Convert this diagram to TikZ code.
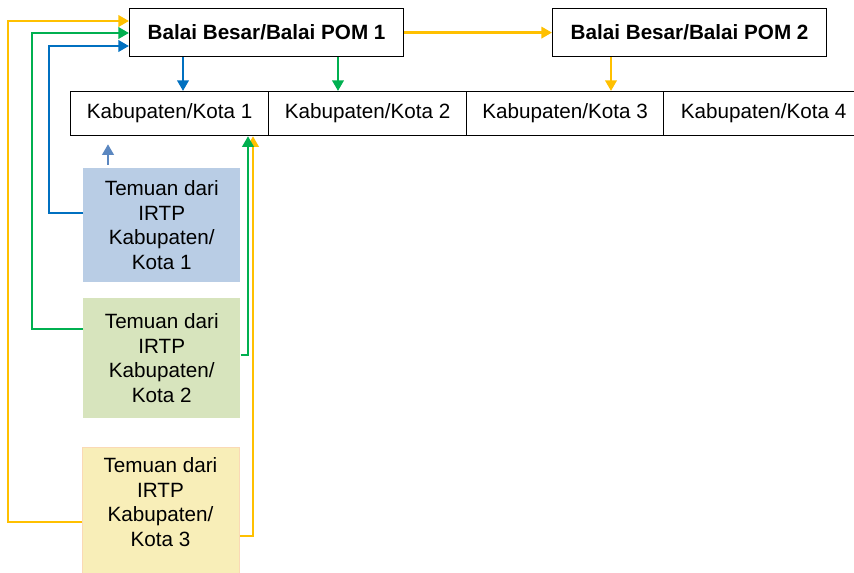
\documentclass[tikz,border=0pt]{standalone}
\usepackage{fontspec}
\setmainfont{Liberation Sans}
\usetikzlibrary{arrows.meta}
\definecolor{cblue}{HTML}{0070C0}
\definecolor{cgreen}{HTML}{00B050}
\definecolor{cyel}{HTML}{FFC000}
\definecolor{csteel}{HTML}{5B87C0}
\definecolor{fblue}{HTML}{B9CDE5}
\definecolor{fgreen}{HTML}{D7E4BD}
\definecolor{fyel}{HTML}{F8EEB8}
\definecolor{byel}{HTML}{FAD9B5}
\begin{document}
\begin{tikzpicture}[x=0.75pt,y=-0.75pt,
  sz/.style 2 args={minimum width={#1*0.75pt}, minimum height={#2*0.75pt}},
  base/.style={inner sep=0pt, anchor=north west, align=center, font=\fontsize{15.5}{18.4}\selectfont},
  wbox/.style={base, draw=black, line width=0.9pt, fill=white},
  conn/.style={line width=2.1pt, draw=#1, -{Triangle[length=8pt,width=8.5pt]}},
]
\useasboundingbox (0,0) rectangle (854,573);
% top boxes
\node[wbox, sz={274}{48}, font=\fontsize{15.5}{18.4}\selectfont\bfseries] (P1) at (129,8) {Balai Besar/Balai POM 1};
\node[wbox, sz={274}{48}, font=\fontsize{15.5}{18.4}\selectfont\bfseries] (P2) at (552,8) {Balai Besar/Balai POM 2};
% kabupaten row
\node[wbox, sz={198}{44}] (K1) at (70,91) {Kabupaten/Kota 1};
\node[wbox, sz={198}{44}] (K2) at (268,91) {Kabupaten/Kota 2};
\node[wbox, sz={197}{44}] (K3) at (466,91) {Kabupaten/Kota 3};
\node[wbox, sz={200}{44}] (K4) at (663,91) {Kabupaten/Kota 4};
% finding boxes
\node[base, fill=fblue, sz={157}{114}] (B1) at (83,168) {Temuan dari\\IRTP\\Kabupaten/\\Kota 1};
\node[base, fill=fgreen, sz={157}{120}] (G2) at (83,298) {Temuan dari\\IRTP\\Kabupaten/\\Kota 2};
\node[base, fill=fyel, draw=byel, line width=0.9pt, sz={157}{140}] (Y3) at (82,447) {};
\node[base, anchor=center] (T3) at (160.5,502) {Temuan dari\\IRTP\\Kabupaten/\\Kota 3};
% arrows between top boxes and row
\draw[conn=cyel] (P1.east) -- (P2.west);
\draw[conn=cblue] ([xshift=40.5pt]P1.south west) -- ([xshift=84.75pt]K1.north west);
\draw[conn=cgreen] ([xshift=156.75pt]P1.south west) -- ([xshift=52.5pt]K2.north west);
\draw[conn=cyel] ([xshift=44.25pt]P2.south west) -- ([xshift=108.75pt]K3.north west);
% feedback lines to POM 1
\draw[conn=cyel] ([yshift=-56.25pt]Y3.north west) -- ++(-74,0) |- ([yshift=-9.75pt]P1.north west);
\draw[conn=cgreen] ([yshift=-23.25pt]G2.north west) -- ++(-51,0) |- ([yshift=-18.75pt]P1.north west);
\draw[conn=cblue] ([yshift=-33.75pt]B1.north west) -- ++(-34,0) |- ([yshift=-28.5pt]P1.north west);
% lines up to Kabupaten/Kota 1
\draw[conn=cyel] ([yshift=-66.75pt]Y3.north east) -| ([xshift=137.25pt]K1.south west);
\draw[conn=cgreen] ([yshift=-42.75pt]G2.north east) -| ([xshift=133.5pt]K1.south west);
\draw[conn=csteel] ([xshift=18.75pt,yshift=2.25pt]B1.north west) -- ([xshift=28.5pt,yshift=-6pt]K1.south west);
\end{tikzpicture}
\end{document}
